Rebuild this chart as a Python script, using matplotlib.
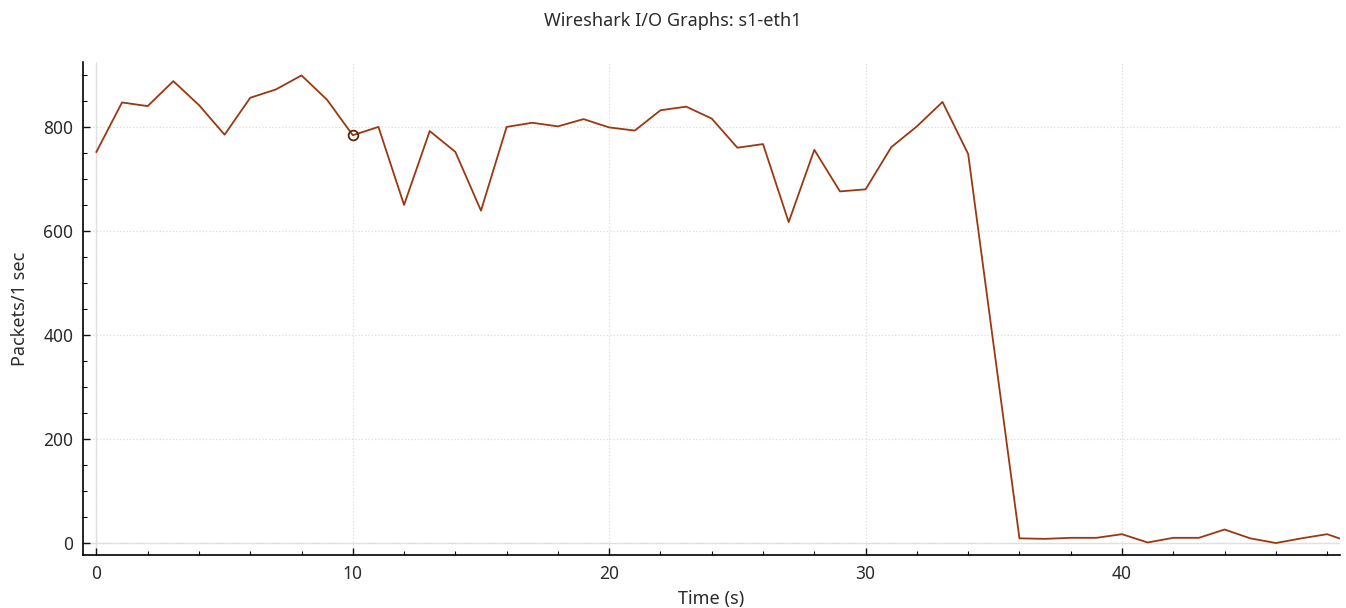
import numpy as np
import matplotlib.pyplot as plt
from matplotlib.ticker import MultipleLocator

# packets per 1 s interval
time_s = list(range(0, 50))
packets = [752, 847, 840, 888, 842, 785, 856, 872, 899, 852,
           784, 800, 650, 792, 752, 639, 800, 808, 801, 815,
           799, 793, 832, 839, 816, 760, 767, 617, 756, 676,
           680, 761, 801, 848, 748, 378, 9, 8, 10, 10,
           17, 1, 10, 10, 26, 9, 0, 9, 17, 0]
marked_x = 10

line_color = '#9a3812'
text_color = '#2b2b2b'

plt.rcParams['font.family'] = ['Noto Sans', 'DejaVu Sans']

fig = plt.figure(figsize=(13.46, 6.08), dpi=100)
ax = fig.add_axes([0.0617, 0.0872, 0.9338, 0.811])

ax.plot(time_s, packets, color=line_color, linewidth=1.3, zorder=3)
ax.plot(time_s[marked_x], packets[marked_x], 'o', mfc='none', mec='#5a2a10',
        ms=7, mew=1.3, zorder=4)

ax.set_xlim(-0.52, 48.5)
ax.set_ylim(-23, 925)

ax.xaxis.set_major_locator(MultipleLocator(10))
ax.xaxis.set_minor_locator(MultipleLocator(2))
ax.yaxis.set_major_locator(MultipleLocator(200))
ax.yaxis.set_minor_locator(MultipleLocator(50))
ax.tick_params(which='major', direction='in', length=5, width=1, labelsize=12.5,
               colors='#111111', labelcolor=text_color)
ax.tick_params(axis='x', which='major', pad=7)
ax.tick_params(axis='y', which='major', pad=7)
ax.tick_params(which='minor', direction='in', length=3, width=0.8)

ax.grid(True, which='major', linestyle=':', color='#dddddd', linewidth=0.9)
ax.axhline(0, color='#e2e2e2', linewidth=1, zorder=1)
ax.axvline(0, color='#e2e2e2', linewidth=1, zorder=1)

for side in ('top', 'right'):
    ax.spines[side].set_visible(False)
for side in ('left', 'bottom'):
    ax.spines[side].set_linewidth(1.2)

ax.set_xlabel('Time (s)', fontsize=13, labelpad=5, color=text_color)
ax.set_ylabel('Packets/1 sec', fontsize=13, labelpad=10, color=text_color)
fig.suptitle('Wireshark I/O Graphs: s1-eth1', fontsize=13, y=1 - 21 / 608,
             va='center', color=text_color)

fig.savefig('out.png', dpi=100)
